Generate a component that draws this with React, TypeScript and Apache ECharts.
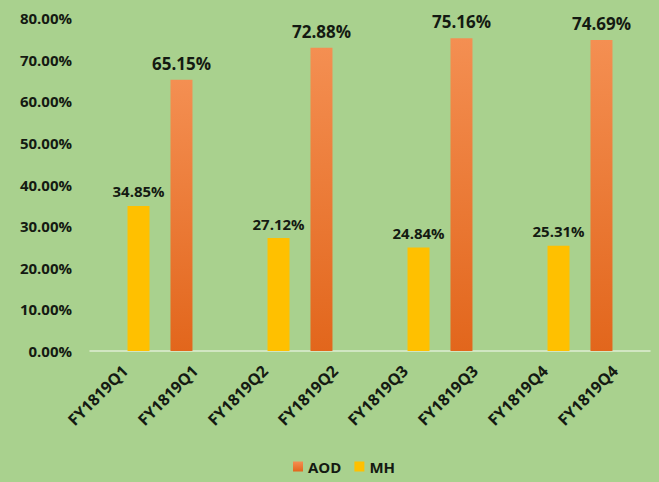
import React, { useEffect, useRef } from "react";
import * as echarts from "echarts";

const categories = [
  "FY1819Q1", "FY1819Q1", "FY1819Q2", "FY1819Q2",
  "FY1819Q3", "FY1819Q3", "FY1819Q4", "FY1819Q4",
];
const aodValues = [null, 65.15, null, 72.88, null, 75.16, null, 74.69];
const mhValues = [34.85, null, 27.12, null, 24.84, null, 25.31, null];
const yMin = 0;
const yMax = 80;
const yInterval = 10;

const FONT = "'Open Sans', 'Liberation Sans', sans-serif";
const TEXT = "#141a12";

export default function App() {
  const ref = useRef<HTMLDivElement>(null);
  useEffect(() => {
    document.body.style.margin = "0";
    const chart = echarts.init(ref.current!, null, { renderer: "svg" });
    chart.setOption({
      animation: false,
      backgroundColor: "#a9d18e",
      textStyle: { fontFamily: FONT },
      grid: { left: 90, right: 9, top: 18, bottom: 131, containLabel: false },
      legend: {
        data: ["AOD", "MH"],
        left: 288,
        top: 454,
        itemWidth: 10,
        itemHeight: 10,
        itemGap: 13,
        icon: "rect",
        textStyle: { fontFamily: FONT, fontWeight: "bold", fontSize: 15, color: TEXT },
      },
      xAxis: {
        type: "category",
        data: categories,
        axisLine: { show: true, lineStyle: { color: "#deedd3", width: 1.5 } },
        axisTick: { show: false },
        axisLabel: {
          rotate: 45,
          interval: 0,
          margin: 17,
          fontFamily: FONT,
          fontWeight: "bold",
          fontSize: 16,
          color: TEXT,
        },
      },
      yAxis: {
        type: "value",
        min: yMin,
        max: yMax,
        interval: yInterval,
        axisLine: { show: false },
        axisTick: { show: false },
        splitLine: { show: false },
        axisLabel: {
          margin: 18,
          fontFamily: FONT,
          fontWeight: "bold",
          fontSize: 15,
          color: TEXT,
          formatter: (v: number) => v.toFixed(2) + "%",
        },
      },
      series: [
        {
          name: "AOD",
          type: "bar",
          data: aodValues,
          barWidth: 22,
          barGap: "23%",
          itemStyle: {
            color: new echarts.graphic.LinearGradient(0, 0, 0, 1, [
              { offset: 0, color: "#f48f52" },
              { offset: 1, color: "#e2661c" },
            ]),
          },
          label: {
            show: true,
            position: "top",
            distance: 8,
            fontFamily: FONT,
            fontWeight: "bold",
            fontSize: 17,
            color: TEXT,
            formatter: (p: any) => p.value.toFixed(2) + "%",
          },
        },
        {
          name: "MH",
          type: "bar",
          data: mhValues,
          barWidth: 22,
          barGap: "23%",
          itemStyle: { color: "#ffc000" },
          label: {
            show: true,
            position: "top",
            distance: 7,
            fontFamily: FONT,
            fontWeight: "bold",
            fontSize: 15,
            color: TEXT,
            formatter: (p: any) => p.value.toFixed(2) + "%",
          },
        },
      ],
    });
    return () => chart.dispose();
  }, []);
  return <div ref={ref} style={{ width: 659, height: 482 }} />;
}
